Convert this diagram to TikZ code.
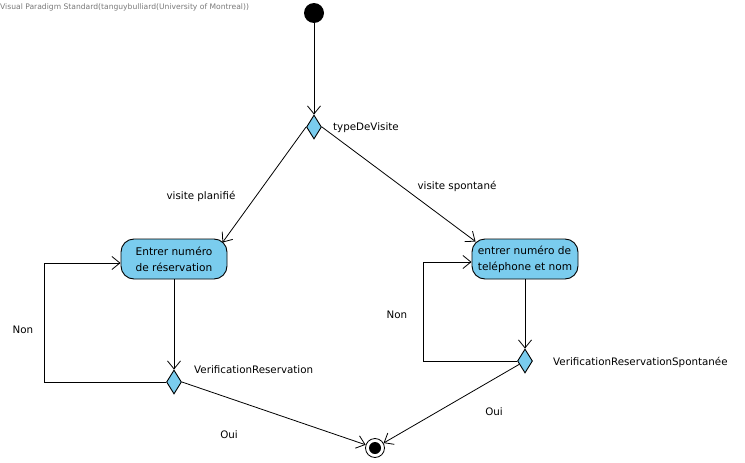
\documentclass[tikz,border=0pt]{standalone}
\usepackage{fontspec}
\setmainfont{DejaVu Sans}
\usetikzlibrary{shapes.geometric,arrows.meta,calc}
\definecolor{actblue}{RGB}{122,204,238}
\definecolor{markgray}{RGB}{120,120,120}
\tikzset{
	action/.style={draw,line width=0.9pt,fill=actblue,rounded corners=13pt,minimum width=106pt,minimum height=40pt,align=left,inner sep=1pt,font=\fontsize{10.6}{16}\selectfont},
	decision/.style={draw,line width=0.9pt,fill=actblue,diamond,minimum width=15pt,minimum height=24pt,inner sep=0pt},
	flow/.style={line width=0.8pt,-{Straight Barb[length=8pt,width=13pt]}},
	lbl/.style={inner sep=0pt,font=\fontsize{10.3}{12}\selectfont}
}
\begin{document}
\begin{tikzpicture}[x=1pt,y=-1pt]
	\useasboundingbox (0,0) rectangle (745,463);
	\node[lbl,anchor=west,text=markgray,font=\fontsize{7.6}{9}\selectfont] (mark) at (0,7) {Visual Paradigm Standard(tanguybulliard(University of Montreal))};
	% states
	\node[circle,fill=black,minimum size=20pt,inner sep=0pt] (start) at (314,13) {};
	\node[decision] (dtype) at (314,127) {};
	\node[action] (reserv) at (174,259) {Entrer numéro\\de réservation};
	\node[action] (tel) at (525,259) {entrer numéro de\\teléphone et nom};
	\node[decision] (dres) at (174,382) {};
	\node[decision] (dspont) at (525,361) {};
	\node[circle,draw,line width=0.8pt,fill=white,minimum size=19pt,inner sep=0pt] (fin) at (375,448) {};
	\node[circle,fill=black,minimum size=12pt,inner sep=0pt] (finin) at (fin) {};
	% labels
	\node[lbl,anchor=west] (ltype) at (333,128) {typeDeVisite};
	\node[lbl] (lplan) at (201,196) {visite planifié};
	\node[lbl] (lspont) at (457,186) {visite spontané};
	\node[lbl,anchor=west] (lres) at (194,370) {VerificationReservation};
	\node[lbl,anchor=west] (lresp) at (553,362) {VerificationReservationSpontanée};
	\node[lbl] (nonl) at (23,330) {Non};
	\node[lbl] (nonr) at (397,315) {Non};
	\node[lbl] (ouil) at (229,435) {Oui};
	\node[lbl] (ouir) at (494,412) {Oui};
	% flows
	\coordinate (loopl) at (44,263);
	\coordinate (loopr) at (423,262);
	\draw[flow] (start) -- (dtype);
	\draw[flow] (dtype.west) -- ($(reserv.north east)+(-5,4)$);
	\draw[flow] (dtype.east) -- ($(tel.north west)+(4,3)$);
	\draw[flow] (reserv) -- (dres);
	\draw[flow] (tel) -- (dspont);
	\draw[flow] (dres.west) -| (loopl) -- (reserv.west |- loopl);
	\draw[flow] (dspont.west) -| (loopr) -- (tel.west |- loopr);
	\draw[flow] (dres.east) -- (fin);
	\draw[flow] (dspont) -- (fin);
\end{tikzpicture}
\end{document}
